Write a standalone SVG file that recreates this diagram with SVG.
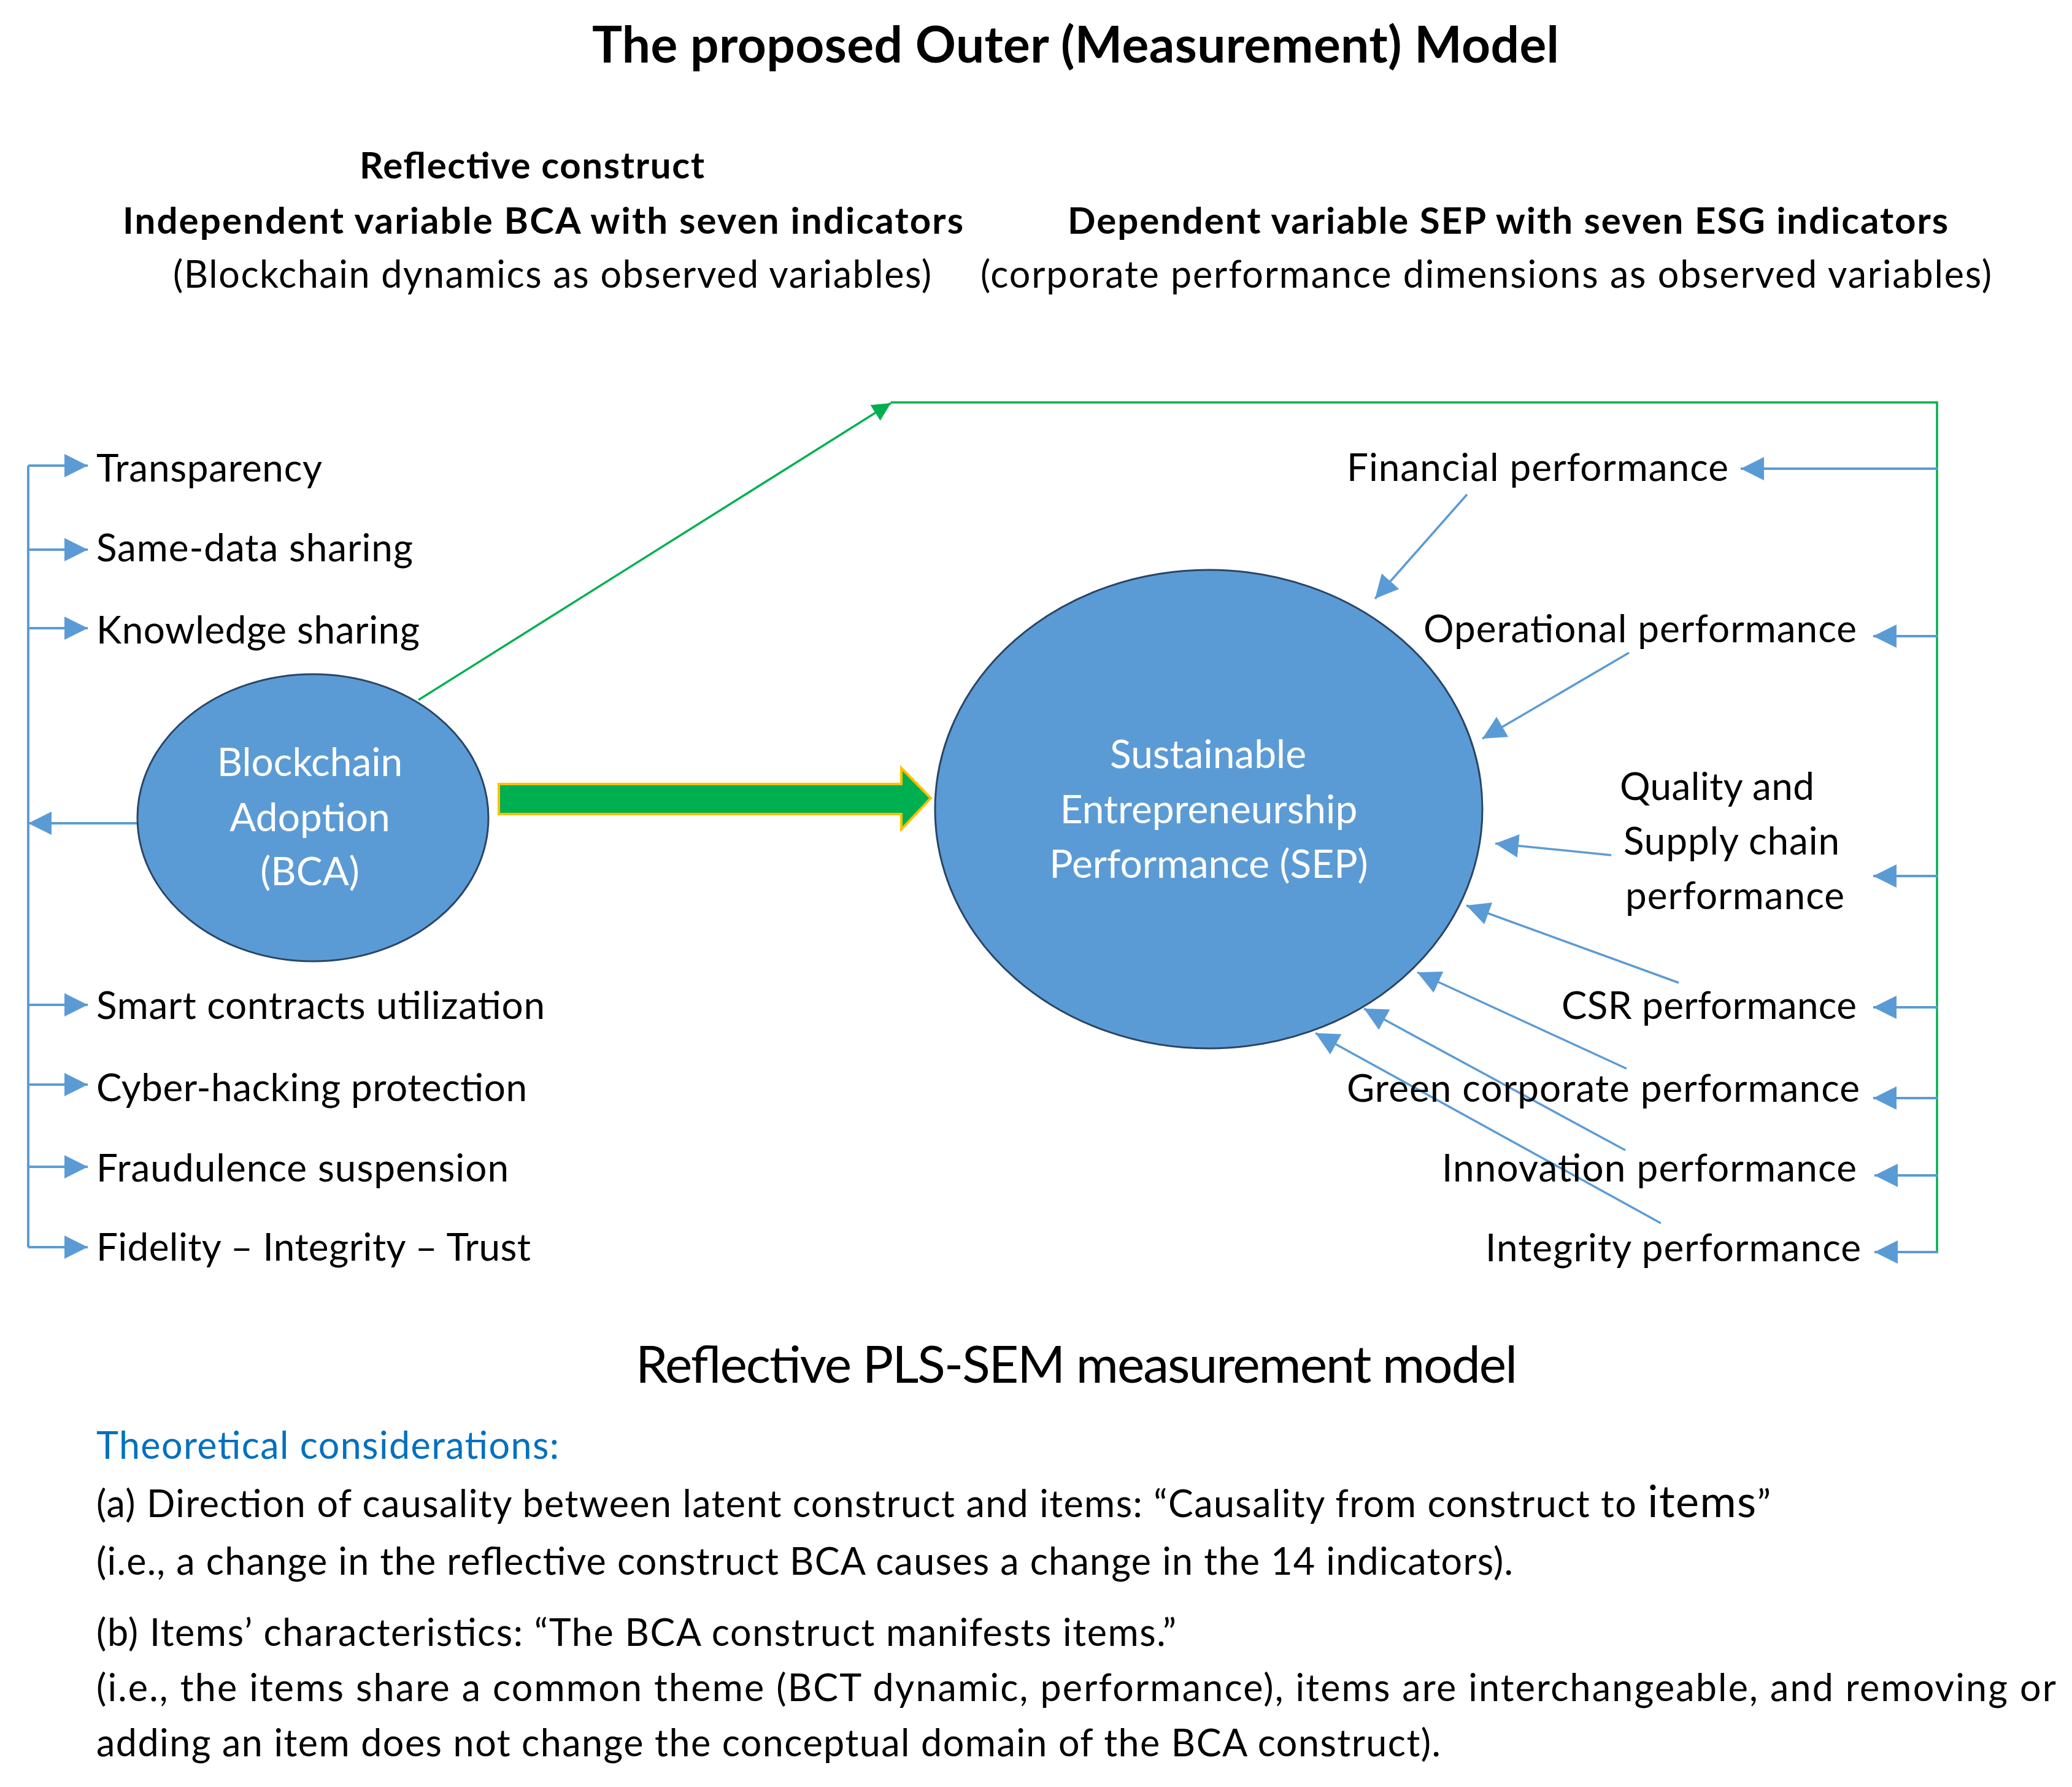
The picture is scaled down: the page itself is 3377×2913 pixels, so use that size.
<svg xmlns="http://www.w3.org/2000/svg" width="3377" height="2913" viewBox="0 0 3377 2913">
<style>
text{font-family:Lato,"Open Sans","Liberation Sans",sans-serif;fill:#000}
.t{font-size:82px;font-weight:bold}
.h{font-size:60px;font-weight:bold}
.s{font-size:61px}
.lab{font-size:62px}
.in{font-size:64px;fill:#fff;text-anchor:middle}
.bt{font-size:84px}
.p{font-size:61px}
.blue{fill:#0070C0}
.bl{stroke:#5B9BD5;stroke-width:4;fill:none}
.bd{stroke:#5B9BD5;stroke-width:3.5;fill:none}
.gr{stroke:#00B050;stroke-width:3.5;fill:none}
</style>
<defs>
<marker id="ab" viewBox="0 0 10 10" refX="10" refY="5" markerWidth="38" markerHeight="40" markerUnits="userSpaceOnUse" orient="auto"><path d="M0,0 L10,5 L0,10 z" fill="#5B9BD5"/></marker>
<marker id="ag" viewBox="0 0 10 10" refX="10" refY="5" markerWidth="32" markerHeight="30" markerUnits="userSpaceOnUse" orient="auto"><path d="M0,0 L10,5 L0,10 z" fill="#00B050"/></marker>
</defs>
<rect width="3377" height="2913" fill="#fff"/>

<g id="headings">
<text class="t" x="965" y="102" textLength="1576">The proposed Outer (Measurement) Model</text>
<text class="h" x="586" y="291" textLength="562">Reflective construct</text>
<text class="h" x="200" y="381" textLength="1370">Independent variable BCA with seven indicators</text>
<text class="h" x="1740" y="381" textLength="1435">Dependent variable SEP with seven ESG indicators</text>
<text class="s" x="282" y="469" textLength="1236">(Blockchain dynamics as observed variables)</text>
<text class="s" x="1598" y="469" textLength="1648">(corporate performance dimensions as observed variables)</text>
</g>

<g id="connectors">
<path class="bl" d="M46,759 V2033"/>
<path class="bl" d="M46,759 H143" marker-end="url(#ab)"/>
<path class="bl" d="M46,896 H143" marker-end="url(#ab)"/>
<path class="bl" d="M46,1024 H143" marker-end="url(#ab)"/>
<path class="bl" d="M46,1638 H143" marker-end="url(#ab)"/>
<path class="bl" d="M46,1768 H143" marker-end="url(#ab)"/>
<path class="bl" d="M46,1902 H143" marker-end="url(#ab)"/>
<path class="bl" d="M46,2033 H143" marker-end="url(#ab)"/>
<path class="bl" d="M224,1342 H46" marker-end="url(#ab)"/>

<path class="gr" d="M682,1141 L1452,657" marker-end="url(#ag)"/>
<path class="gr" d="M1452,656 H3157 V2041"/>

<path class="bl" d="M3159,764 H2837" marker-end="url(#ab)"/>
<path class="bl" d="M3159,1037 H3053" marker-end="url(#ab)"/>
<path class="bl" d="M3159,1428 H3053" marker-end="url(#ab)"/>
<path class="bl" d="M3159,1642 H3053" marker-end="url(#ab)"/>
<path class="bl" d="M3159,1790 H3053" marker-end="url(#ab)"/>
<path class="bl" d="M3159,1916 H3055" marker-end="url(#ab)"/>
<path class="bl" d="M3159,2041 H3055" marker-end="url(#ab)"/>

<path class="bd" d="M2391,806 L2241,976" marker-end="url(#ab)"/>
<path class="bd" d="M2655,1064 L2416,1204" marker-end="url(#ab)"/>
<path class="bd" d="M2626,1394 L2437,1375" marker-end="url(#ab)"/>
<path class="bd" d="M2736,1602 L2390,1476" marker-end="url(#ab)"/>
<path class="bd" d="M2651,1742 L2310,1585" marker-end="url(#ab)"/>
<path class="bd" d="M2649,1875 L2223,1644" marker-end="url(#ab)"/>
<path class="bd" d="M2707,1994 L2144,1684" marker-end="url(#ab)"/>

<polygon points="813,1278 1469,1278 1469,1252 1517,1301 1469,1352 1469,1327 813,1327" fill="#00B050" stroke="#FFC000" stroke-width="4"/>
</g>

<g id="bca">
<ellipse cx="510" cy="1333" rx="286" ry="234" fill="#5B9BD5" stroke="#2A4565" stroke-width="3"/>
<text class="in" x="505" y="1265">Blockchain</text>
<text class="in" x="505" y="1355">Adoption</text>
<text class="in" x="505" y="1443">(BCA)</text>
</g>

<g id="sep">
<ellipse cx="1970" cy="1319" rx="446" ry="390" fill="#5B9BD5" stroke="#2A4565" stroke-width="3"/>
<text class="in" x="1969" y="1252">Sustainable</text>
<text class="in" x="1970" y="1342">Entrepreneurship</text>
<text class="in" x="1970" y="1431">Performance (SEP)</text>
</g>

<g id="bca-indicators">
<text class="lab" x="157" y="785" textLength="368">Transparency</text>
<text class="lab" x="157" y="915" textLength="516">Same-data sharing</text>
<text class="lab" x="157" y="1049" textLength="527">Knowledge sharing</text>
<text class="lab" x="157" y="1661" textLength="731">Smart contracts utilization</text>
<text class="lab" x="157" y="1795" textLength="702">Cyber-hacking protection</text>
<text class="lab" x="157" y="1926" textLength="672">Fraudulence suspension</text>
<text class="lab" x="157" y="2055" textLength="708">Fidelity – Integrity – Trust</text>
</g>

<g id="sep-indicators">
<text class="lab" x="2195" y="784" textLength="622">Financial performance</text>
<text class="lab" x="2320" y="1047" textLength="706">Operational performance</text>
<text class="lab" x="2640" y="1304" textLength="317">Quality and</text>
<text class="lab" x="2646" y="1393" textLength="352">Supply chain</text>
<text class="lab" x="2649" y="1482" textLength="357">performance</text>
<text class="lab" x="2545" y="1661" textLength="481">CSR performance</text>
<text class="lab" x="2195" y="1796" textLength="836">Green corporate performance</text>
<text class="lab" x="2350" y="1926" textLength="676">Innovation performance</text>
<text class="lab" x="2421" y="2056" textLength="612">Integrity performance</text>
</g>

<g id="notes">
<text class="bt" x="1036" y="2254" textLength="1437">Reflective PLS-SEM measurement model</text>
<text class="p blue" x="157" y="2378" textLength="754">Theoretical considerations:</text>
<text class="p" x="157" y="2473" textLength="2729">(a) Direction of causality between latent construct and items: “Causality from construct to <tspan font-size="72">items</tspan>”</text>
<text class="p" x="157" y="2567" textLength="2309">(i.e., a change in the reflective construct BCA causes a change in the 14 indicators).</text>
<text class="p" x="157" y="2683" textLength="1760">(b) Items’ characteristics: “The BCA construct manifests items.”</text>
<text class="p" x="157" y="2773" textLength="3194">(i.e., the items share a common theme (BCT dynamic, performance), items are interchangeable, and removing or</text>
<text class="p" x="157" y="2863" textLength="2191">adding an item does not change the conceptual domain of the BCA construct).</text>
</g>
</svg>
